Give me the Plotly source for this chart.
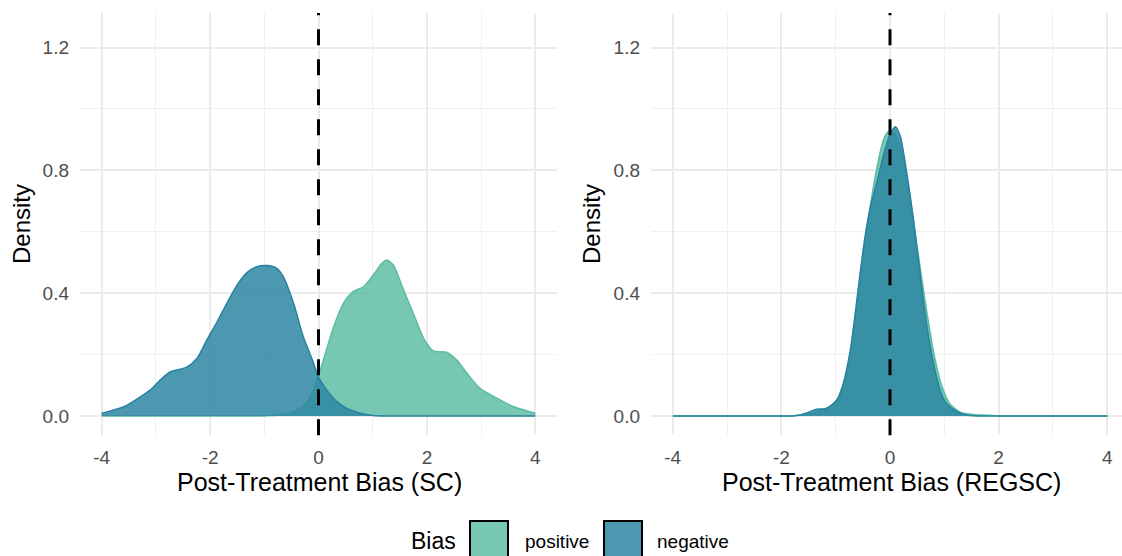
import plotly.graph_objects as go

# ---------------- data ----------------
# Left panel: Post-Treatment Bias (SC)
sc_neg_x = [-4.0, -3.85, -3.59, -3.28, -3.10, -2.92, -2.73, -2.55, -2.43, -2.24, -2.06, -1.87,
            -1.69, -1.50, -1.32, -1.14, -0.95, -0.77, -0.65, -0.46, -0.28, -0.09, -0.01, 0.15,
            0.34, 0.52, 0.77, 1.01, 1.3, 2.0, 3.0, 4.0]
sc_neg_y = [0.009, 0.016, 0.030, 0.063, 0.085, 0.117, 0.144, 0.152, 0.159, 0.188, 0.248, 0.307,
            0.367, 0.427, 0.467, 0.486, 0.490, 0.481, 0.454, 0.367, 0.258, 0.172, 0.130, 0.085,
            0.047, 0.025, 0.009, 0.002, 0.0, 0.0, 0.0, 0.0]

sc_pos_x = [-4.0, -3.0, -2.0, -1.3, -0.95, -0.59, -0.34, -0.15, -0.01, 0.09, 0.28, 0.46, 0.64,
            0.83, 1.01, 1.17, 1.26, 1.38, 1.57, 1.75, 1.94, 2.12, 2.37, 2.55, 2.74, 2.98,
            3.29, 3.60, 3.84, 4.0]
sc_pos_y = [0.0, 0.0, 0.0, 0.0, 0.001, 0.006, 0.025, 0.063, 0.128, 0.182, 0.291, 0.367, 0.405,
            0.421, 0.459, 0.497, 0.508, 0.492, 0.410, 0.334, 0.253, 0.212, 0.207, 0.182, 0.139,
            0.090, 0.058, 0.030, 0.017, 0.009]

# Right panel: Post-Treatment Bias (REGSC)
reg_pos_x = [-4.0, -3.0, -2.0, -1.8, -1.6, -1.4, -1.2, -1.0, -0.85, -0.7, -0.55, -0.4, -0.25,
             -0.12, -0.03, 0.08, 0.2, 0.35, 0.5, 0.65, 0.8, 0.95, 1.1, 1.3, 1.5, 1.7, 2.0,
             3.0, 4.0]
reg_pos_y = [0.0, 0.0, 0.0, 0.0, 0.004, 0.010, 0.022, 0.045, 0.10, 0.23, 0.45, 0.64, 0.80,
             0.90, 0.926, 0.92, 0.87, 0.73, 0.55, 0.37, 0.21, 0.10, 0.04, 0.012, 0.006, 0.003,
             0.0, 0.0, 0.0]

reg_neg_x = [-4.0, -3.0, -2.0, -1.8, -1.66, -1.47, -1.35, -1.17, -0.98, -0.86, -0.73, -0.64,
             -0.55, -0.45, -0.36, -0.23, -0.11, 0.01, 0.10, 0.19, 0.31, 0.44, 0.56, 0.68, 0.80,
             0.92, 1.04, 1.23, 1.41, 1.6, 2.0, 3.0, 4.0]
reg_neg_y = [0.0, 0.0, 0.0, 0.0, 0.003, 0.014, 0.022, 0.025, 0.052, 0.106, 0.215, 0.334,
             0.465, 0.595, 0.682, 0.769, 0.856, 0.921, 0.942, 0.910, 0.790, 0.628, 0.454, 0.291,
             0.172, 0.085, 0.041, 0.014, 0.003, 0.0, 0.0, 0.0, 0.0]

groups = ["positive", "negative"]
x_ticks = [-4, -2, 0, 2, 4]
x_tick_text = ["-4", "-2", "0", "2", "4"]
y_ticks = [0.0, 0.4, 0.8, 1.2]
y_tick_text = ["0.0", "0.4", "0.8", "1.2"]
x_titles = ["Post-Treatment Bias (SC)", "Post-Treatment Bias (REGSC)"]
y_title = "Density"
legend_title = "Bias"

# ---------------- style ----------------
W, H = 1122, 556
FONT = "Liberation Sans, Arial, sans-serif"
fill_col = {"positive": "rgba(95,190,165,0.85)", "negative": "rgba(45,134,162,0.85)"}
line_col = {"positive": "rgb(90,188,162)", "negative": "rgb(40,130,160)"}

def px_x(p):
    return p / W

def px_y(p):
    return 1 - p / H

y_dom = [px_y(435.2), px_y(13.0)]
x_dom1 = [px_x(80), px_x(557)]
x_dom2 = [px_x(651), 1.0]

fig = go.Figure()

panels = [
    ("x", "y", {"positive": (sc_pos_x, sc_pos_y), "negative": (sc_neg_x, sc_neg_y)}),
    ("x2", "y2", {"positive": (reg_pos_x, reg_pos_y), "negative": (reg_neg_x, reg_neg_y)}),
]
for xa, ya, data in panels:
    for g in groups:
        xs, ys = data[g]
        fig.add_trace(go.Scatter(
            x=xs, y=ys, mode="lines", fill="tozeroy",
            fillcolor=fill_col[g],
            line=dict(color=line_col[g], width=1.5, shape="spline", smoothing=0.7),
            name=g, showlegend=False, xaxis=xa, yaxis=ya, hoverinfo="skip",
        ))

axis_common = dict(
    showgrid=True, gridcolor="#EBEBEB", gridwidth=1.8,
    zeroline=False, showline=False, ticks="",
    tickfont=dict(family=FONT, size=19, color="#4D4D4D"),
    automargin=False,
)
minor_x = dict(tickvals=[-3, -1, 1, 3], showgrid=True, gridcolor="#F0F0F0", gridwidth=1.2)
minor_y = dict(tickvals=[0.2, 0.6, 1.0], showgrid=True, gridcolor="#F0F0F0", gridwidth=1.2)

fig.update_layout(
    width=W, height=H,
    margin=dict(l=0, r=0, t=0, b=0),
    paper_bgcolor="white", plot_bgcolor="white",
    showlegend=False,
    xaxis=dict(domain=x_dom1, range=[-4.4, 4.4], tickvals=x_ticks, ticktext=x_tick_text,
               anchor="y", minor=minor_x, ticklabelstandoff=9, **axis_common),
    yaxis=dict(domain=y_dom, range=[-0.0625, 1.3125], tickvals=y_ticks, ticktext=y_tick_text,
               anchor="x", minor=minor_y, ticklabelstandoff=10, **axis_common),
    xaxis2=dict(domain=x_dom2, range=[-4.4, 4.4 - (1129 - 1122) / 54.3], tickvals=x_ticks,
                ticktext=x_tick_text, anchor="y2", minor=minor_x, ticklabelstandoff=9,
                **axis_common),
    yaxis2=dict(domain=y_dom, range=[-0.0625, 1.3125], tickvals=y_ticks, ticktext=y_tick_text,
                anchor="x2", minor=minor_y, ticklabelstandoff=10, **axis_common),
)

# dashed reference line at zero in each panel (drawn bottom -> top)
for xr, yr in [("x", "y domain"), ("x2", "y2 domain")]:
    fig.add_shape(type="line", xref=xr, yref=yr, x0=0, x1=0, y0=0, y1=1,
                  line=dict(color="black", width=3, dash="16px,14px"), layer="above")

annotations = []
# axis titles
for cx, t in [(319, x_titles[0]), (891, x_titles[1])]:
    annotations.append(dict(x=px_x(cx), y=px_y(482), xref="paper", yref="paper", text=t,
                            showarrow=False, xanchor="center", yanchor="middle",
                            font=dict(family=FONT, size=25, color="black")))
for cx in [22, 592]:
    annotations.append(dict(x=px_x(cx), y=px_y(224), xref="paper", yref="paper", text=y_title,
                            showarrow=False, xanchor="center", yanchor="middle", textangle=-90,
                            font=dict(family=FONT, size=24, color="black")))

# manual legend
annotations.append(dict(x=px_x(434), y=px_y(541), xref="paper", yref="paper", text=legend_title,
                        showarrow=False, xanchor="center", yanchor="middle",
                        font=dict(family=FONT, size=23, color="black")))
legend_items = [("positive", 470, 508, 523), ("negative", 604, 642, 655)]
for g, kx0, kx1, tx in legend_items:
    fig.add_shape(type="rect", xref="paper", yref="paper",
                  x0=px_x(kx0), x1=px_x(kx1), y0=px_y(521), y1=px_y(565),
                  fillcolor=fill_col[g], line=dict(color="black", width=2))
    annotations.append(dict(x=px_x(tx), y=px_y(541), xref="paper", yref="paper", text=g,
                            showarrow=False, xanchor="left", yanchor="middle",
                            font=dict(family=FONT, size=19, color="black")))

fig.update_layout(annotations=annotations)

fig.write_html("out.html")
